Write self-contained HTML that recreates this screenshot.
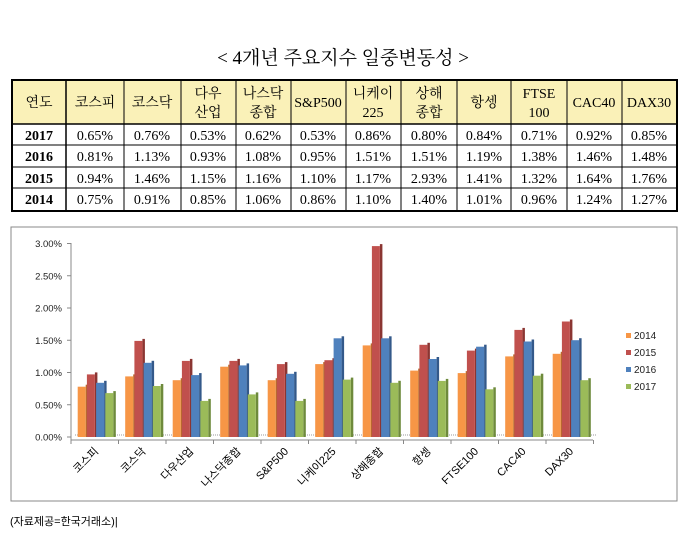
<!DOCTYPE html>
<html><head><meta charset="utf-8">
<style>
body{margin:0;background:#fff;width:687px;height:541px;overflow:hidden}
svg{display:block}
.k{font-family:"Liberation Serif","Noto Serif CJK KR","Noto Sans CJK KR",serif}
.s{font-family:"Liberation Sans","Noto Sans CJK KR",sans-serif}
.a{fill:#F79646}.ad{fill:#B86A2C}.b{fill:#C0504D}.bd{fill:#8B3532}.c{fill:#4F81BD}.cd{fill:#34598A}.d{fill:#9BBB59}.dd{fill:#6E8A3C}
</style></head><body>
<svg width="687" height="541" viewBox="0 0 687 541" xmlns="http://www.w3.org/2000/svg">
<text x="343" y="64" text-anchor="middle" class="k" font-size="19" fill="#000">&lt; 4개년 주요지수 일중변동성 &gt;</text>
<rect x="12" y="80" width="665" height="44" fill="#FAF1B8"/>
<g stroke="#000" stroke-width="1">
<rect x="12" y="80" width="665" height="131" fill="none" stroke-width="2"/>
<line x1="12" y1="124" x2="677" y2="124" stroke-width="1.5"/>
<line x1="12" y1="145" x2="677" y2="145"/>
<line x1="12" y1="167" x2="677" y2="167"/>
<line x1="12" y1="188" x2="677" y2="188"/>
<line x1="66" y1="80" x2="66" y2="211" stroke-width="1.5"/>
<line x1="124" y1="80" x2="124" y2="211"/><line x1="181" y1="80" x2="181" y2="211"/>
<line x1="236" y1="80" x2="236" y2="211"/><line x1="291" y1="80" x2="291" y2="211"/>
<line x1="346" y1="80" x2="346" y2="211"/><line x1="401" y1="80" x2="401" y2="211"/>
<line x1="457" y1="80" x2="457" y2="211"/><line x1="511" y1="80" x2="511" y2="211"/>
<line x1="567" y1="80" x2="567" y2="211"/><line x1="622" y1="80" x2="622" y2="211"/>
</g>
<g class="k" font-size="14" text-anchor="middle" fill="#000">
<text x="39" y="107">연도</text>
<text x="95" y="107">코스피</text>
<text x="152" y="107">코스닥</text>
<text x="208" y="98">다우</text><text x="208" y="117">산업</text>
<text x="263" y="98">나스닥</text><text x="263" y="117">종합</text>
<text x="318" y="107">S&amp;P500</text>
<text x="373" y="98">니케이</text><text x="373" y="117">225</text>
<text x="429" y="98">상해</text><text x="429" y="117">종합</text>
<text x="484" y="107">항셍</text>
<text x="539" y="98">FTSE</text><text x="539" y="117">100</text>
<text x="594" y="107">CAC40</text>
<text x="649" y="107">DAX30</text>
</g>
<g class="k" font-size="14" text-anchor="middle" fill="#000">
<text x="39" y="140" font-weight="bold">2017</text><text x="95" y="140">0.65%</text><text x="152" y="140">0.76%</text><text x="208" y="140">0.53%</text><text x="263" y="140">0.62%</text><text x="318" y="140">0.53%</text><text x="373" y="140">0.86%</text><text x="429" y="140">0.80%</text><text x="484" y="140">0.84%</text><text x="539" y="140">0.71%</text><text x="594" y="140">0.92%</text><text x="649" y="140">0.85%</text>
<text x="39" y="161" font-weight="bold">2016</text><text x="95" y="161">0.81%</text><text x="152" y="161">1.13%</text><text x="208" y="161">0.93%</text><text x="263" y="161">1.08%</text><text x="318" y="161">0.95%</text><text x="373" y="161">1.51%</text><text x="429" y="161">1.51%</text><text x="484" y="161">1.19%</text><text x="539" y="161">1.38%</text><text x="594" y="161">1.46%</text><text x="649" y="161">1.48%</text>
<text x="39" y="183" font-weight="bold">2015</text><text x="95" y="183">0.94%</text><text x="152" y="183">1.46%</text><text x="208" y="183">1.15%</text><text x="263" y="183">1.16%</text><text x="318" y="183">1.10%</text><text x="373" y="183">1.17%</text><text x="429" y="183">2.93%</text><text x="484" y="183">1.41%</text><text x="539" y="183">1.32%</text><text x="594" y="183">1.64%</text><text x="649" y="183">1.76%</text>
<text x="39" y="204" font-weight="bold">2014</text><text x="95" y="204">0.75%</text><text x="152" y="204">0.91%</text><text x="208" y="204">0.85%</text><text x="263" y="204">1.06%</text><text x="318" y="204">0.86%</text><text x="373" y="204">1.10%</text><text x="429" y="204">1.40%</text><text x="484" y="204">1.01%</text><text x="539" y="204">0.96%</text><text x="594" y="204">1.24%</text><text x="649" y="204">1.27%</text>
</g>
<rect x="11" y="227" width="666" height="274" fill="none" stroke="#888" stroke-width="1"/>
<g class="s" font-size="9.5" fill="#222" text-anchor="end">
<text x="62" y="440.5">0.00%</text><text x="62" y="408.3">0.50%</text><text x="62" y="376">1.00%</text><text x="62" y="343.8">1.50%</text><text x="62" y="311.5">2.00%</text><text x="62" y="279.3">2.50%</text><text x="62" y="247">3.00%</text>
</g>
<g stroke="#888">
<line x1="71" y1="243" x2="71" y2="440"/><line x1="71" y1="440" x2="593" y2="440"/>
<line x1="67" y1="437" x2="71" y2="437"/><line x1="67" y1="404.75" x2="71" y2="404.75"/><line x1="67" y1="372.5" x2="71" y2="372.5"/><line x1="67" y1="340.25" x2="71" y2="340.25"/><line x1="67" y1="308" x2="71" y2="308"/><line x1="67" y1="275.75" x2="71" y2="275.75"/><line x1="67" y1="243.5" x2="71" y2="243.5"/>
<line x1="71" y1="440" x2="71" y2="444"/><line x1="118.5" y1="440" x2="118.5" y2="444"/><line x1="166" y1="440" x2="166" y2="444"/><line x1="213.5" y1="440" x2="213.5" y2="444"/><line x1="261" y1="440" x2="261" y2="444"/><line x1="308.5" y1="440" x2="308.5" y2="444"/><line x1="356" y1="440" x2="356" y2="444"/><line x1="403.5" y1="440" x2="403.5" y2="444"/><line x1="451" y1="440" x2="451" y2="444"/><line x1="498.5" y1="440" x2="498.5" y2="444"/><line x1="546" y1="440" x2="546" y2="444"/><line x1="593.5" y1="440" x2="593.5" y2="444"/>
</g>
<line x1="75" y1="435" x2="597" y2="435" stroke="#999" stroke-dasharray="1,1"/>

<g transform="translate(77.7,0)">
<rect class="ad" x="8" y="384.7" width="2.5" height="52.3"/><rect class="a" x="0" y="386.7" width="8" height="50.3"/>
<rect class="bd" x="17.2" y="372.4" width="2.5" height="64.6"/><rect class="b" x="9.2" y="374.4" width="8" height="62.6"/>
<rect class="cd" x="26.4" y="380.8" width="2.5" height="56.2"/><rect class="c" x="18.4" y="382.8" width="8" height="54.2"/>
<rect class="dd" x="35.6" y="391.1" width="2.5" height="45.9"/><rect class="d" x="27.6" y="393.1" width="8" height="43.9"/>
</g>
<g transform="translate(125.2,0)">
<rect class="ad" x="8" y="374.4" width="2.5" height="62.6"/><rect class="a" x="0" y="376.4" width="8" height="60.6"/>
<rect class="bd" x="17.2" y="338.9" width="2.5" height="98.1"/><rect class="b" x="9.2" y="340.9" width="8" height="96.1"/>
<rect class="cd" x="26.4" y="360.8" width="2.5" height="76.2"/><rect class="c" x="18.4" y="362.8" width="8" height="74.2"/>
<rect class="dd" x="35.6" y="384" width="2.5" height="53"/><rect class="d" x="27.6" y="386" width="8" height="51"/>
</g>
<g transform="translate(172.7,0)">
<rect class="ad" x="8" y="378.2" width="2.5" height="58.8"/><rect class="a" x="0" y="380.2" width="8" height="56.8"/>
<rect class="bd" x="17.2" y="358.9" width="2.5" height="78.1"/><rect class="b" x="9.2" y="360.9" width="8" height="76.1"/>
<rect class="cd" x="26.4" y="373.1" width="2.5" height="63.9"/><rect class="c" x="18.4" y="375.1" width="8" height="61.9"/>
<rect class="dd" x="35.6" y="398.9" width="2.5" height="38.1"/><rect class="d" x="27.6" y="400.9" width="8" height="36.1"/>
</g>
<g transform="translate(220.2,0)">
<rect class="ad" x="8" y="364.7" width="2.5" height="72.3"/><rect class="a" x="0" y="366.7" width="8" height="70.3"/>
<rect class="bd" x="17.2" y="358.9" width="2.5" height="78.1"/><rect class="b" x="9.2" y="360.9" width="8" height="76.1"/>
<rect class="cd" x="26.4" y="363.4" width="2.5" height="73.6"/><rect class="c" x="18.4" y="365.4" width="8" height="71.6"/>
<rect class="dd" x="35.6" y="392.4" width="2.5" height="44.6"/><rect class="d" x="27.6" y="394.4" width="8" height="42.6"/>
</g>
<g transform="translate(267.7,0)">
<rect class="ad" x="8" y="378.2" width="2.5" height="58.8"/><rect class="a" x="0" y="380.2" width="8" height="56.8"/>
<rect class="bd" x="17.2" y="362.1" width="2.5" height="74.9"/><rect class="b" x="9.2" y="364.1" width="8" height="72.9"/>
<rect class="cd" x="26.4" y="371.8" width="2.5" height="65.2"/><rect class="c" x="18.4" y="373.8" width="8" height="63.2"/>
<rect class="dd" x="35.6" y="398.9" width="2.5" height="38.1"/><rect class="d" x="27.6" y="400.9" width="8" height="36.1"/>
</g>
<g transform="translate(315.2,0)">
<rect class="ad" x="8" y="362.1" width="2.5" height="74.9"/><rect class="a" x="0" y="364.1" width="8" height="72.9"/>
<rect class="bd" x="17.2" y="358.2" width="2.5" height="78.8"/><rect class="b" x="9.2" y="360.2" width="8" height="76.8"/>
<rect class="cd" x="26.4" y="336.3" width="2.5" height="100.7"/><rect class="c" x="18.4" y="338.3" width="8" height="98.7"/>
<rect class="dd" x="35.6" y="377.6" width="2.5" height="59.4"/><rect class="d" x="27.6" y="379.6" width="8" height="57.4"/>
</g>
<g transform="translate(362.7,0)">
<rect class="ad" x="8" y="343.4" width="2.5" height="93.6"/><rect class="a" x="0" y="345.4" width="8" height="91.6"/>
<rect class="bd" x="17.2" y="244.1" width="2.5" height="192.9"/><rect class="b" x="9.2" y="246.1" width="8" height="190.9"/>
<rect class="cd" x="26.4" y="336.3" width="2.5" height="100.7"/><rect class="c" x="18.4" y="338.3" width="8" height="98.7"/>
<rect class="dd" x="35.6" y="380.8" width="2.5" height="56.2"/><rect class="d" x="27.6" y="382.8" width="8" height="54.2"/>
</g>
<g transform="translate(410.2,0)">
<rect class="ad" x="8" y="368.6" width="2.5" height="68.4"/><rect class="a" x="0" y="370.6" width="8" height="66.4"/>
<rect class="bd" x="17.2" y="342.8" width="2.5" height="94.2"/><rect class="b" x="9.2" y="344.8" width="8" height="92.2"/>
<rect class="cd" x="26.4" y="357" width="2.5" height="80"/><rect class="c" x="18.4" y="359" width="8" height="78"/>
<rect class="dd" x="35.6" y="378.9" width="2.5" height="58.1"/><rect class="d" x="27.6" y="380.9" width="8" height="56.1"/>
</g>
<g transform="translate(457.7,0)">
<rect class="ad" x="8" y="371.1" width="2.5" height="65.9"/><rect class="a" x="0" y="373.1" width="8" height="63.9"/>
<rect class="bd" x="17.2" y="348.6" width="2.5" height="88.4"/><rect class="b" x="9.2" y="350.6" width="8" height="86.4"/>
<rect class="cd" x="26.4" y="344.7" width="2.5" height="92.3"/><rect class="c" x="18.4" y="346.7" width="8" height="90.3"/>
<rect class="dd" x="35.6" y="387.3" width="2.5" height="49.7"/><rect class="d" x="27.6" y="389.3" width="8" height="47.7"/>
</g>
<g transform="translate(505.2,0)">
<rect class="ad" x="8" y="354.4" width="2.5" height="82.6"/><rect class="a" x="0" y="356.4" width="8" height="80.6"/>
<rect class="bd" x="17.2" y="327.9" width="2.5" height="109.1"/><rect class="b" x="9.2" y="329.9" width="8" height="107.1"/>
<rect class="cd" x="26.4" y="339.5" width="2.5" height="97.5"/><rect class="c" x="18.4" y="341.5" width="8" height="95.5"/>
<rect class="dd" x="35.6" y="373.7" width="2.5" height="63.3"/><rect class="d" x="27.6" y="375.7" width="8" height="61.3"/>
</g>
<g transform="translate(552.7,0)">
<rect class="ad" x="8" y="351.8" width="2.5" height="85.2"/><rect class="a" x="0" y="353.8" width="8" height="83.2"/>
<rect class="bd" x="17.2" y="319.5" width="2.5" height="117.5"/><rect class="b" x="9.2" y="321.5" width="8" height="115.5"/>
<rect class="cd" x="26.4" y="338.2" width="2.5" height="98.8"/><rect class="c" x="18.4" y="340.2" width="8" height="96.8"/>
<rect class="dd" x="35.6" y="378.2" width="2.5" height="58.8"/><rect class="d" x="27.6" y="380.2" width="8" height="56.8"/>
</g>

<g class="s" font-size="11" fill="#000" text-anchor="end">
<text transform="translate(99,452) rotate(-45)">코스피</text>
<text transform="translate(146.5,452) rotate(-45)">코스닥</text>
<text transform="translate(194,452) rotate(-45)">다우산업</text>
<text transform="translate(241.5,452) rotate(-45)">나스닥종합</text>
<text transform="translate(289,452) rotate(-45)">S&amp;P500</text>
<text transform="translate(336.5,452) rotate(-45)">니케이225</text>
<text transform="translate(384,452) rotate(-45)">상해종합</text>
<text transform="translate(431.5,452) rotate(-45)">항셍</text>
<text transform="translate(479,452) rotate(-45)">FTSE100</text>
<text transform="translate(526.5,452) rotate(-45)">CAC40</text>
<text transform="translate(574,452) rotate(-45)">DAX30</text>
</g>
<g class="s" font-size="10" fill="#222">
<rect class="a" x="626" y="333" width="5" height="5"/><text x="634" y="339">2014</text>
<rect class="b" x="626" y="350" width="5" height="5"/><text x="634" y="356">2015</text>
<rect class="c" x="626" y="367" width="5" height="5"/><text x="634" y="373">2016</text>
<rect class="d" x="626" y="384" width="5" height="5"/><text x="634" y="390">2017</text>
</g>
<text x="10" y="525" class="s" font-size="11" fill="#000">(자료제공=한국거래소)|</text>
</svg>
</body></html>
